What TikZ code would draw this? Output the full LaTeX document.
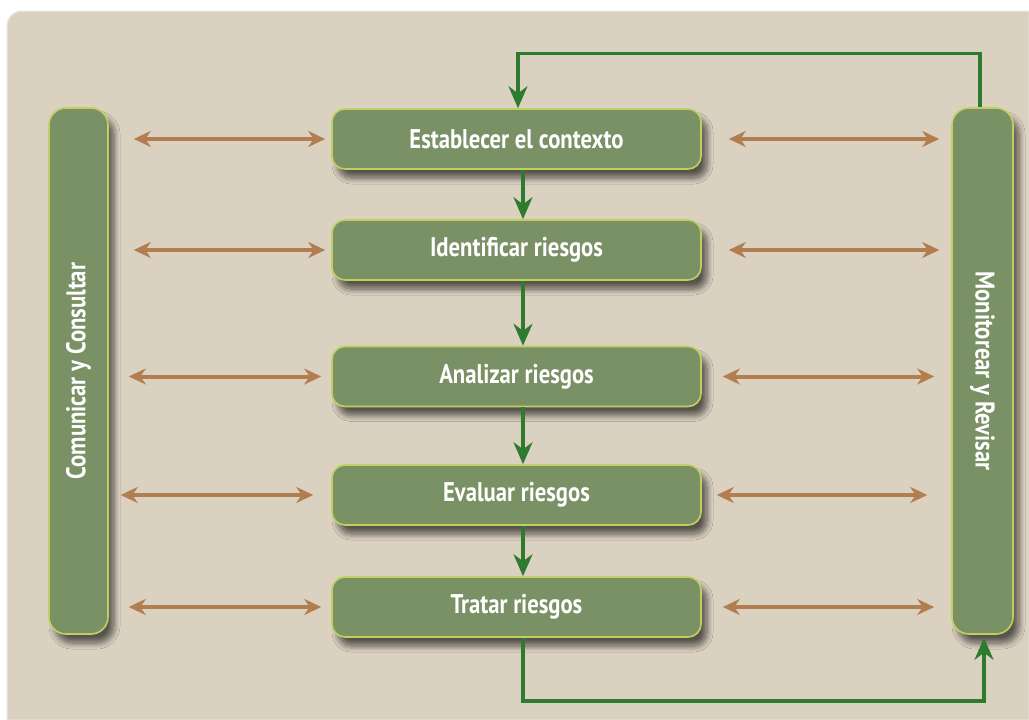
\documentclass[tikz,border=0pt]{standalone}
\usepackage{fontspec}
\newfontfamily\boxfont{PT Sans}[FakeStretch=0.84]
\usepackage{tikz}
\usetikzlibrary{arrows.meta,positioning,shadows.blur}
\definecolor{sand}{RGB}{219,209,193}
\definecolor{sandedge}{RGB}{236,231,222}
\definecolor{leaf}{RGB}{122,145,102}
\definecolor{leafedge}{RGB}{192,208,96}
\definecolor{copper}{RGB}{178,126,80}
\definecolor{flowgreen}{RGB}{46,122,46}
\tikzset{
  stage/.style={draw=leafedge, line width=1.6pt, fill=leaf, rounded corners=13pt,
    minimum width=369pt, minimum height=60pt, inner sep=0pt,
    text=white, font=\boxfont\bfseries\fontsize{27}{29}\selectfont,
    blur shadow={shadow xshift=6pt, shadow yshift=-9pt, shadow blur steps=8, shadow blur radius=6pt, shadow opacity=60}},
  bar/.style={stage, minimum height=526pt, rounded corners=17pt},
  link/.style={line width=4pt, copper, {Stealth[length=17pt,width=16pt]}-{Stealth[length=17pt,width=16pt]}},
  flow/.style={line width=3.4pt, flowgreen, -{Stealth[length=22pt,width=19pt]}}
}
\begin{document}
\begin{tikzpicture}[x=1pt, y=-1pt]
\useasboundingbox (0,0) rectangle (1029,720);
% background panel
\fill[white] (0,0) rectangle (1029,720);
\filldraw[fill=sand, draw=sandedge, line width=1pt] (7,720) [rounded corners=15pt] -- (7,11) [sharp corners] -- (1029,11) -- (1029,720) -- cycle;

% process steps
\node[stage] (est) at (516.5,139) {Establecer el contexto};
\node[stage] (ide) at (516.5,250) {Identificar riesgos};
\node[stage] (ana) at (516.5,376.5) {Analizar riesgos};
\node[stage] (eva) at (516.5,495) {Evaluar riesgos};
\node[stage] (tra) at (516.5,607) {Tratar riesgos};

% side bars
\node[bar, minimum width=59pt] (com) at (78.5,371) {\rotatebox{90}{Comunicar y Consultar}};
\node[bar, minimum width=61pt] (mon) at (982.5,371) {\rotatebox{-90}{Monitorear y Revisar}};

% main flow
\draw[flow] ([xshift=6.5pt]est.south) -- ([xshift=6.5pt]ide.north);
\draw[flow] ([xshift=6.5pt]ide.south) -- ([xshift=6.5pt]ana.north);
\draw[flow] ([xshift=6.5pt]ana.south) -- ([xshift=6.5pt]eva.north);
\draw[flow] ([xshift=6.5pt]eva.south) -- ([xshift=6.5pt]tra.north);

% feedback loop
\draw[flow] ([xshift=-2.5pt]mon.north) -- ++(0,-54) -| ([xshift=1.5pt]est.north);
\draw[flow, shorten >=3pt] ([xshift=6.5pt]tra.south) -- ++(0,63) -| ([xshift=1.5pt]mon.south);

% communication links
\draw[link, shorten <=25pt, shorten >=6pt] (com.east |- est.west) -- (est.west);
\draw[link, shorten <=25pt, shorten >=6pt] (com.east |- ide.west) -- (ide.west);
\draw[link, shorten <=20pt, shorten >=10pt] (com.east |- ana.west) -- (ana.west);
\draw[link, shorten <=12pt, shorten >=18pt] (com.east |- eva.west) -- (eva.west);
\draw[link, shorten <=20pt, shorten >=10pt] (com.east |- tra.west) -- (tra.west);

% monitoring links
\draw[link, shorten <=27pt, shorten >=12pt] (est.east) -- (mon.west |- est.east);
\draw[link, shorten <=27pt, shorten >=12pt] (ide.east) -- (mon.west |- ide.east);
\draw[link, shorten <=21pt, shorten >=17pt] (ana.east) -- (mon.west |- ana.east);
\draw[link, shorten <=15pt, shorten >=24pt] (eva.east) -- (mon.west |- eva.east);
\draw[link, shorten <=21pt, shorten >=17pt] (tra.east) -- (mon.west |- tra.east);
\end{tikzpicture}
\end{document}
